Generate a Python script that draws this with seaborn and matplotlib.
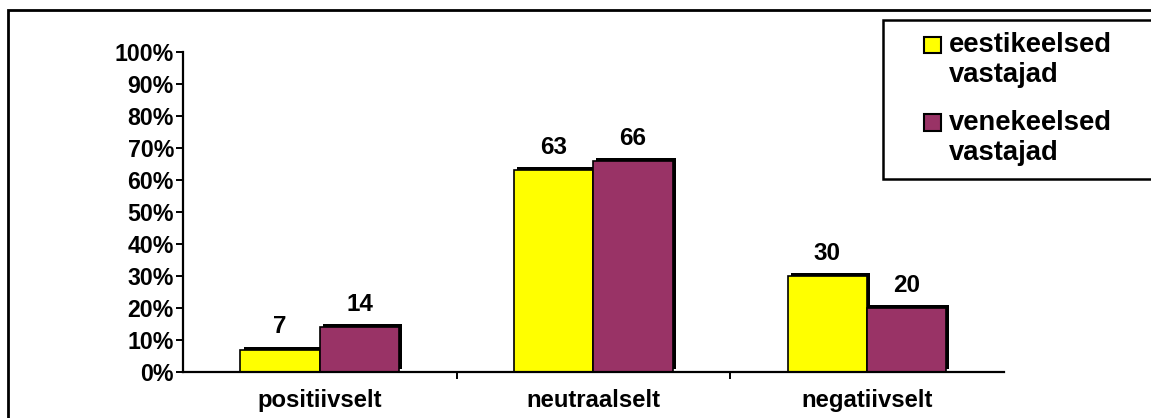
import matplotlib
matplotlib.use("Agg")
import matplotlib.pyplot as plt
import matplotlib.patheffects as pe
from matplotlib.patches import Rectangle
from matplotlib.legend_handler import HandlerPatch
from matplotlib.ticker import FixedLocator, FuncFormatter
import pandas as pd
import seaborn as sns

categories = ["positiivselt", "neutraalselt", "negatiivselt"]
groups = ["eestikeelsed\nvastajad", "venekeelsed\nvastajad"]
estonian = [7, 63, 30]
russian = [14, 66, 20]
yticks = list(range(0, 101, 10))
colors = ["#FFFF00", "#993366"]

df = pd.DataFrame({
    "kategooria": categories * 2,
    "rühm": [groups[0]] * 3 + [groups[1]] * 3,
    "väärtus": estonian + russian,
})

sns.set_theme(style="white")
plt.rcParams["font.family"] = ["Liberation Sans", "DejaVu Sans"]
plt.rcParams["font.weight"] = "bold"
for key in ("text.color", "axes.labelcolor", "xtick.color", "ytick.color"):
    plt.rcParams[key] = "black"

fig = plt.figure(figsize=(11.51, 4.18), dpi=100)
ax = fig.add_axes([0.159, 0.110, 0.713, 0.766])

sns.barplot(data=df, x="kategooria", y="väärtus", hue="rühm",
            order=categories, hue_order=groups, palette=colors,
            saturation=1, width=0.58, gap=0, edgecolor="black",
            linewidth=1.2, ax=ax, legend=True)

shadow = [pe.SimplePatchShadow(offset=(2.2, 2.2), shadow_rgbFace="black", alpha=1.0),
          pe.Normal()]
for patch in ax.patches:
    patch.set_path_effects(shadow)

for cont in ax.containers:
    ax.bar_label(cont, fmt="%d", padding=8, fontsize=17.5, fontweight="bold",
                 color="black")

ax.set_xlim(-0.5, 2.5)
ax.set_ylim(0, 100)
ax.yaxis.set_major_locator(FixedLocator(yticks))
ax.yaxis.set_major_formatter(FuncFormatter(lambda v, p: f"{int(v)}%"))
ax.set_xlabel("")
ax.set_ylabel("")

for side in ("top", "right"):
    ax.spines[side].set_visible(False)
for side in ("left", "bottom"):
    ax.spines[side].set_color("black")
    ax.spines[side].set_linewidth(1.6)

ax.tick_params(axis="y", which="major", direction="out", length=5, width=1.4,
               color="black", labelsize=16.7, pad=1.5, left=True)
ax.tick_params(axis="x", which="major", length=0, labelsize=17.2, pad=12)
ax.set_xticks([0.5, 1.5], minor=True)
ax.tick_params(axis="x", which="minor", direction="out", length=5, width=1.4,
               color="black", bottom=True)
for lbl in ax.get_xticklabels() + ax.get_yticklabels():
    lbl.set_fontweight("bold")


def square_key(legend, orig_handle, xdescent, ydescent, width, height, fontsize):
    side = 0.6 * fontsize
    return Rectangle((-xdescent + width - side, -ydescent), side, side)


handles, labels = ax.get_legend_handles_labels()
ax.legend_.remove()
leg = fig.legend(handles, labels, loc="upper left",
                 bbox_to_anchor=(0.767, 0.25, 0.3, 0.702), mode="expand",
                 frameon=True, fancybox=False, framealpha=1, fontsize=19.7,
                 handlelength=1.66, handleheight=0.78, handletextpad=0.3,
                 labelspacing=0.8, borderpad=0.45, borderaxespad=0,
                 handler_map={h: HandlerPatch(patch_func=square_key) for h in handles})
leg.get_frame().set_edgecolor("black")
leg.get_frame().set_linewidth(1.8)
for t in leg.get_texts():
    t.set_fontweight("bold")
    t.set_color("black")
for h in leg.legend_handles:
    h.set_path_effects([])
    h.set_edgecolor("black")
    h.set_linewidth(1.5)
# align each key with the first line of its two-line label
for column in leg._legend_handle_box.get_children():
    for row in column.get_children():
        row.align = "top"

# outer chart frame
fig.patches.append(Rectangle((8 / 1151, -0.2), 1.2, 1.2 - 10 / 418,
                             transform=fig.transFigure, fill=False,
                             edgecolor="black", linewidth=2, zorder=0))

fig.savefig("out.png", dpi=100, facecolor="white")
